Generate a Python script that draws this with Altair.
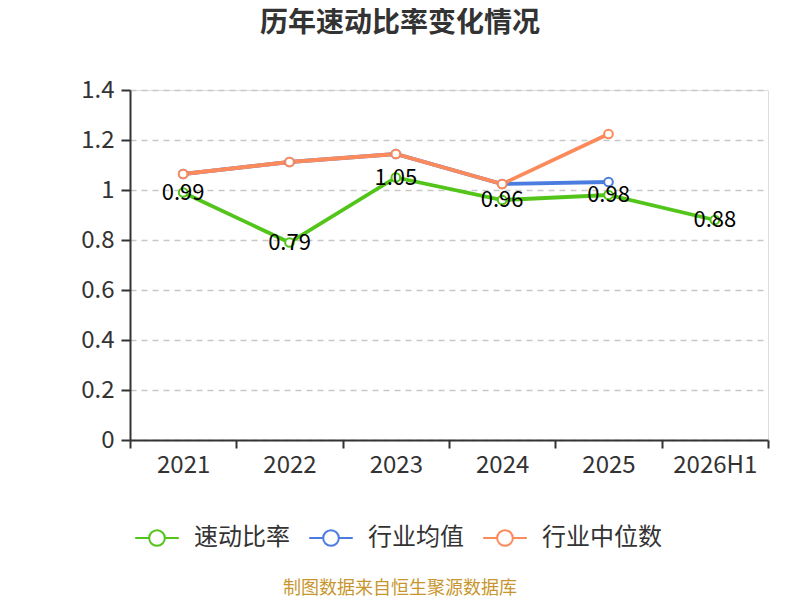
import altair as alt
import pandas as pd

years = ["2021", "2022", "2023", "2024", "2025", "2026H1"]
quick_ratio = [0.99, 0.79, 1.05, 0.96, 0.98, 0.88]
industry_mean = [1.064, 1.112, 1.144, 1.024, 1.032, None]
industry_median = [1.064, 1.112, 1.144, 1.024, 1.224, None]
series_names = ["速动比率", "行业均值", "行业中位数"]
series_colors = ["#52c41a", "#4a7ddf", "#fd8a5a"]
y_ticks = [0, 0.2, 0.4, 0.6, 0.8, 1.0, 1.2, 1.4]

rows = []
for i, y in enumerate(years):
    for name, vals, order in zip(series_names, [quick_ratio, industry_mean, industry_median], [0, 1, 2]):
        v = vals[i]
        if v is not None:
            rows.append({"year": y, "series": name, "value": v, "order": order})
df = pd.DataFrame(rows)
df_main = pd.DataFrame({"year": years, "value": quick_ratio})

FONT = "Noto Sans CJK SC"

x_enc = alt.X("year:N", sort=years, title=None,
              scale=alt.Scale(type="band", paddingInner=0, paddingOuter=0),
              axis=alt.Axis(tickBand="extent", labelFontSize=24, labelColor="#333333",
                            labelFont=FONT, labelPadding=5, tickSize=8, tickColor="#333333",
                            tickWidth=2, domainColor="#333333", domainWidth=2, labelAngle=0))
y_enc = alt.Y("value:Q", title=None,
              scale=alt.Scale(domain=[0, 1.4], nice=False),
              axis=alt.Axis(values=y_ticks, format="~g", labelFontSize=24, labelColor="#333333",
                            labelFont=FONT, labelPadding=7, tickSize=9, tickColor="#333333",
                            tickWidth=2, domainColor="#333333", domainWidth=2,
                            grid=True, gridDash=[6, 5], gridColor="#c8c8c8", gridWidth=1.5))

color_scale = alt.Scale(domain=series_names, range=series_colors)

lines = alt.Chart(df).mark_line(strokeWidth=3.8).encode(
    x=x_enc, y=y_enc,
    color=alt.Color("series:N", sort=series_names, scale=color_scale,
                    legend=alt.Legend(title=None, orient="none", legendX=4, legendY=425,
                                      direction="horizontal",
                                      symbolType="M-1,0 L-0.36,0 M0.36,0 L1,0 M-0.36,0 A0.36,0.36 0 1,0 0.36,0 A0.36,0.36 0 1,0 -0.36,0",
                                      symbolSize=1900, symbolStrokeWidth=2,
                                      symbolFillColor="white",
                                      labelFontSize=24, labelFont=FONT, labelColor="#333333",
                                      labelOffset=14, columnPadding=15)),
    order=alt.Order("order:Q"), detail="series:N")

points = alt.Chart(df).mark_point(filled=False, fill="white", size=75, strokeWidth=2,
                                  opacity=1).encode(
    x=alt.X("year:N", sort=years), y=alt.Y("value:Q"),
    stroke=alt.Stroke("series:N", sort=series_names, scale=color_scale, legend=None))

labels = alt.Chart(df_main).mark_text(fontSize=22, font=FONT, color="#000000",
                                      baseline="middle", align="center").encode(
    x=alt.X("year:N", sort=years), y=alt.Y("value:Q"),
    text=alt.Text("value:Q", format=".2f"))

source = alt.Chart(pd.DataFrame({"t": ["制图数据来自恒生聚源数据库"]})).mark_text(
    fontSize=18, font=FONT, color="#c8962e", align="center", baseline="middle").encode(
    x=alt.value(270), y=alt.value(499), text="t:N")

chart = alt.layer(lines, points, labels, source).properties(
    width=638, height=350,
    title=alt.TitleParams("历年速动比率变化情况", fontSize=28, font=FONT, fontWeight="bold",
                          color="#333333", anchor="middle", frame="group", dx=-49, offset=40),
    autosize=alt.AutoSizeParams(type="none"),
    padding={"left": 122, "top": 82, "right": 24, "bottom": 160},
).configure_view(stroke=None).configure(background="white")

chart.save("out.html", embed_options={"renderer": "svg", "actions": False})
